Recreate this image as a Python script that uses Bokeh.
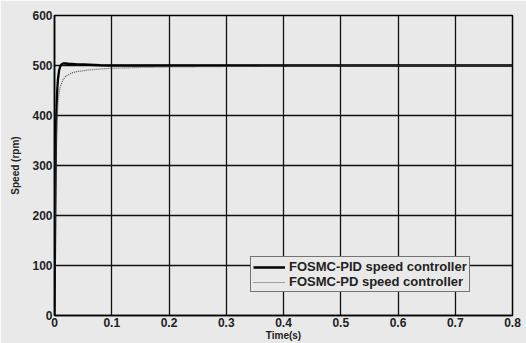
from bokeh.plotting import figure
from bokeh.models import Range1d, Legend, LegendItem, FixedTicker
from bokeh.embed import file_html
from bokeh.resources import INLINE

# FOSMC-PID speed response (time in s, speed in rpm)
pid_t = [0, 0.001, 0.002, 0.003, 0.004, 0.005, 0.006, 0.008, 0.010, 0.012, 0.015,
         0.020, 0.025, 0.030, 0.040, 0.050, 0.060, 0.070, 0.080, 0.10, 0.2, 0.3,
         0.4, 0.5, 0.6, 0.7, 0.8]
pid_speed = [0, 160, 300, 390, 430, 455, 472, 490, 498, 502, 504,
             504, 503, 503, 502, 502, 501.5, 501, 500.5, 500, 500, 500,
             500, 500, 500, 500, 500]

# FOSMC-PD speed response
pd_t = [0, 0.001, 0.002, 0.003, 0.004, 0.006, 0.008, 0.010, 0.015, 0.020, 0.030,
        0.040, 0.060, 0.080, 0.10, 0.15, 0.2, 0.3, 0.4, 0.5, 0.6, 0.7, 0.8]
pd_speed = [0, 140, 260, 340, 385, 425, 445, 457, 472, 479, 485,
            488, 491, 493, 494.5, 496, 497, 498, 499, 499.5, 500, 500, 500]

x_ticks = [0, 0.1, 0.2, 0.3, 0.4, 0.5, 0.6, 0.7, 0.8]
y_ticks = [0, 100, 200, 300, 400, 500, 600]

BG = "#e9e9e9"
FONT = "Liberation Sans"

p = figure(width=526, height=343, output_backend="svg", toolbar_location=None,
           x_range=Range1d(0, 0.8), y_range=Range1d(0, 600),
           min_border_left=54, min_border_right=14, min_border_top=15,
           min_border_bottom=27)
p.background_fill_color = BG
p.border_fill_color = BG
p.outline_line_color = "black"
p.outline_line_width = 1.5

pid_r = p.line(pid_t, pid_speed, line_color="black", line_width=2.3)
pd_r = p.line(pd_t, pd_speed, line_color="#555555", line_width=1.2, line_dash="1 1")

for ax in (p.xaxis[0], p.yaxis[0]):
    ax.major_label_text_font = FONT
    ax.major_label_text_font_style = "bold"
    ax.major_label_text_font_size = "12px"
    ax.major_label_text_color = "#222222"
    ax.axis_label_text_font = FONT
    ax.axis_label_text_font_style = "bold"
    ax.axis_label_text_font_size = "10px"
    ax.axis_label_text_color = "#222222"
    ax.major_tick_out = 0
    ax.major_tick_in = 0
    ax.minor_tick_line_color = None
    ax.axis_line_color = "black"
    ax.axis_line_width = 1.5

p.xaxis[0].ticker = FixedTicker(ticks=x_ticks)
p.yaxis[0].ticker = FixedTicker(ticks=y_ticks)
p.xaxis[0].axis_label = "Time(s)"
p.yaxis[0].axis_label = "Speed (rpm)"
p.xaxis[0].major_label_standoff = 2
p.yaxis[0].major_label_standoff = 2
p.xaxis[0].axis_label_standoff = 0
p.yaxis[0].axis_label_standoff = 8

p.xgrid.grid_line_color = "#111111"
p.ygrid.grid_line_color = "#111111"
p.xgrid.grid_line_width = 1.3
p.ygrid.grid_line_width = 1.3

legend = Legend(items=[LegendItem(label="FOSMC-PID speed controller", renderers=[pid_r]),
                       LegendItem(label="FOSMC-PD speed controller", renderers=[pd_r])],
                location=(196, 23))
legend.label_text_font = FONT
legend.label_text_font_style = "bold"
legend.label_text_font_size = "13px"
legend.label_text_color = "#222222"
legend.glyph_width = 32
legend.glyph_height = 12
legend.label_height = 12
legend.label_standoff = 4
legend.spacing = 0
legend.padding = 2
legend.margin = 0
legend.border_line_color = "black"
legend.border_line_width = 1.5
legend.background_fill_color = BG
legend.background_fill_alpha = 1.0
p.add_layout(legend, "center")

open("out.html", "w").write(file_html(p, INLINE))
